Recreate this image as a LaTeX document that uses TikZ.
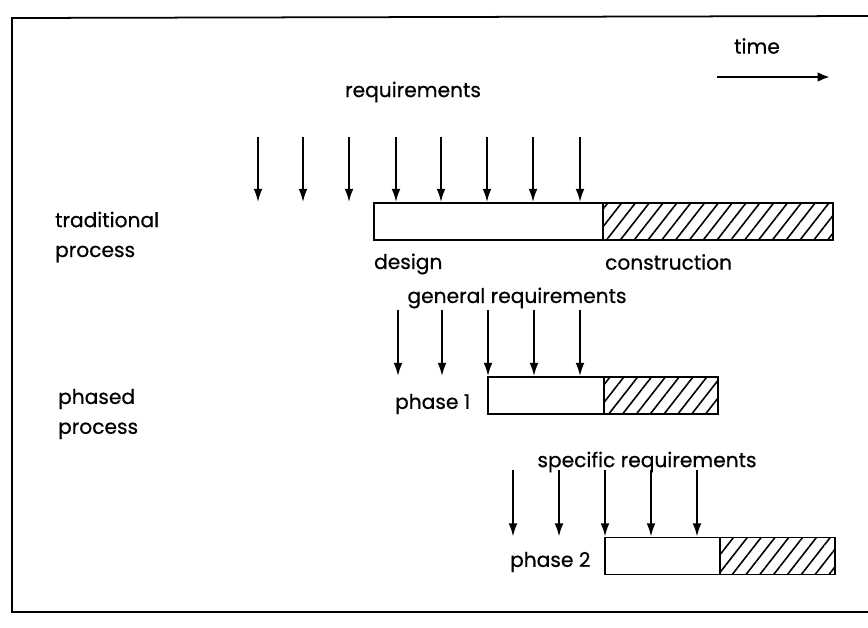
\documentclass[tikz,border=0pt]{standalone}
\usepackage{fontspec}
\setmainfont{Poppins}[FakeBold=0.6]
\usetikzlibrary{arrows.meta,patterns.meta,positioning,calc}

\tikzset{
  stagebox/.style={draw, line width=1.1pt, minimum height=0.74cm, inner sep=0pt},
  buildbox/.style={stagebox, pattern={Lines[angle=52, distance=6.2pt, line width=0.9pt]}},
  req/.style={line width=1pt, -{Latex[length=7.5pt,width=5pt]}},
  lbl/.style={font=\fontsize{11.5}{17}\selectfont, inner sep=1pt}
}

\begin{document}
\begin{tikzpicture}[x=0.02cm, y=-0.02cm]
  \useasboundingbox (0,0) rectangle (868,627);
  % frame
  \draw[line width=1pt] (868,16) -- (12,18) -- (12,612) -- (868,612);

  % time direction
  \node[lbl] (time) at (757,46) {time};
  \coordinate (tstart) at (717,77);
  \coordinate (tend) at (830,77);
  \draw[line width=1.6pt, -{Latex[length=7pt,width=5.5pt]}] (tstart) -- (tend);

  % traditional process
  \node[stagebox, minimum width=4.58cm] (design) at (488.5,221.5) {};
  \node[buildbox, minimum width=4.60cm] (constr) at (718,221.5) {};
  \node[lbl] (req) at (413,92) {requirements};
  \foreach \x [count=\i] in {258,303,349,396,441,487,533,580}{
    \coordinate (t\i) at (\x,137);
    \draw[req] (t\i) -- (t\i |- design.north);
  }
  \node[lbl, anchor=west] (designlbl) at (372,264) {design};
  \node[lbl, anchor=west] (constrlbl) at (603,262) {construction};
  \node[lbl, anchor=west, align=left] (trad) at (53,237) {traditional\\process};

  % phased process
  \node[stagebox, minimum width=2.32cm] (pdes1) at (546,395.5) {};
  \node[buildbox, minimum width=2.28cm] (pcon1) at (661,395.5) {};
  \node[lbl] (genreq) at (517,298) {general requirements};
  \foreach \x [count=\i] in {398,442,488,534,580}{
    \coordinate (g\i) at (\x,310);
    \draw[req] (g\i) -- (g\i |- pdes1.north);
  }
  \node[lbl, anchor=west] (ph1) at (393,404) {phase 1};

  \node[stagebox, minimum width=2.30cm] (pdes2) at (662.5,556) {};
  \node[buildbox, minimum width=2.30cm] (pcon2) at (777.5,556) {};
  \node[lbl] (specreq) at (647,462) {specific requirements};
  \foreach \x [count=\i] in {513,559,605,651,697}{
    \coordinate (s\i) at (\x,470);
    \draw[req] (s\i) -- (s\i |- pdes2.north);
  }
  \node[lbl, anchor=west] (ph2) at (508,562) {phase 2};
  \node[lbl, anchor=west, align=left] (phased) at (56,414) {phased\\process};
\end{tikzpicture}
\end{document}
